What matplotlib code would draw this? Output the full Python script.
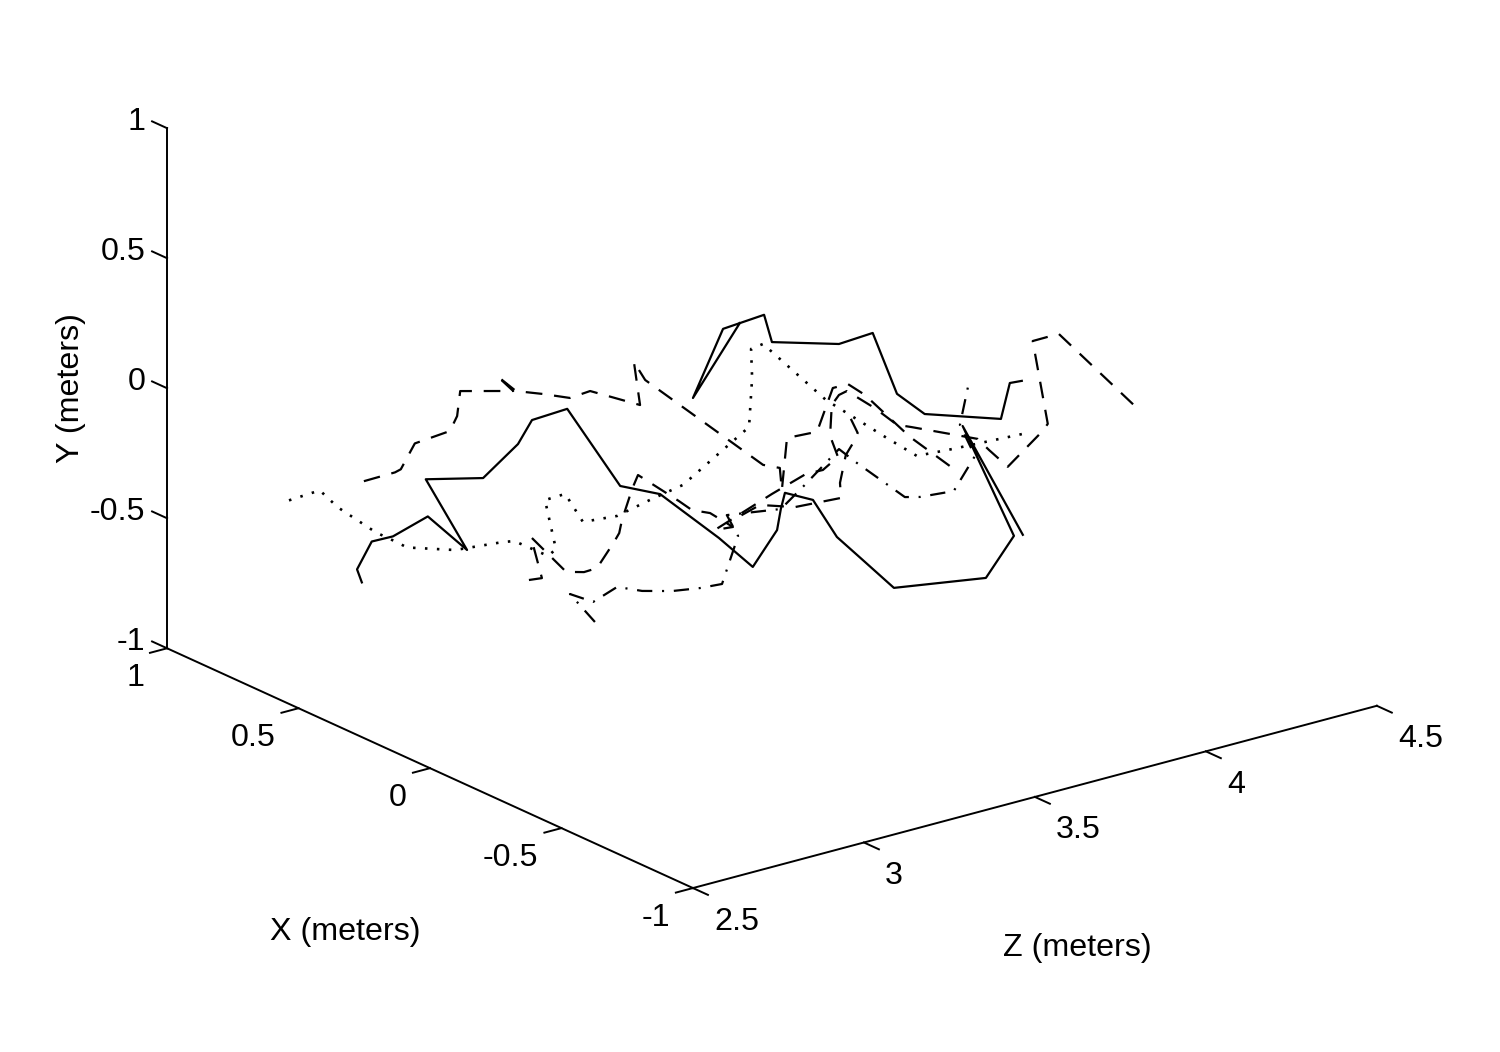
import matplotlib
matplotlib.use('Agg')
import matplotlib.pyplot as plt

plt.rcParams['font.family'] = ['Liberation Sans', 'DejaVu Sans']
plt.rcParams['lines.scale_dashes'] = False

# walk 1, solid
z_solid1 = [2.762, 2.748, 2.791, 2.853, 2.955, 2.839, 2.949, 2.886, 2.988, 3.029, 3.132, 3.287, 3.173,
            3.345, 3.444, 3.515, 3.526, 3.538, 3.620, 3.690, 3.535, 3.626, 3.895, 3.977, 3.827, 4.003]
x_solid1 = [.6, .6, .6, .6, .6, .3, .6, .3, .3, .3, .3, .3, 0,
            0, 0, 0, 0, 0, 0, 0, -.3, -.3, -.3, -.3, -.3, -.3]
y_solid1 = [-.654, -.599, -.507, -.509, -.468, -.418, -.323, -.158, -.063, .015, .022, -.329, -.182,
            -.411, -.557, -.440, -.363, -.305, -.361, -.528, -.424, -.563, -.619, -.486, -.011, -.491]

# walk 2, solid
z_solid2 = [3.406, 3.269, 3.357, 3.477, 3.500, 3.696, 3.564, 3.635, 3.716, 3.939, 3.965, 4.000]
x_solid2 = [0, 0, 0, 0, 0, 0, -.3, -.3, -.3, -.3, -.3, -.3]
y_solid2 = [.394, .154, .389, .401, .288, .212, .439, .180, .074, -.023, .106, .102]

# walk 3, dashed
z_dash1 = [2.768, 2.859, 2.876, 2.917, 2.789, 2.810, 2.819, 2.974, 2.927, 2.982, 3.061, 3.140, 3.199,
           3.345, 3.327, 3.360, 3.474, 3.523, 3.529, 3.544, 3.632, 3.678, 3.722, 3.541, 3.673, 3.789]
x_dash1 = [.6, .6, .6, .6, .3, .3, .3, .3, .3, .3, .3, .3, .3,
           .3, .3, .3, 0, 0, 0, 0, 0, 0, 0, -.3, -.3, -.3]
y_dash1 = [-.267, -.265, -.259, -.174, .057, .107, .200, .146, .220, .143, .104, .061, .067,
           -.038, .134, .053, -.175, -.204, -.291, -.096, -.103, .049, .049, .209, .001, -.151]

# walk 4, dashed
z_dash2 = [3.020, 3.058, 3.026, 3.129, 3.181, 3.219, 3.269, 3.284, 3.292, 3.322, 3.339, 3.228, 3.266,
           3.319, 3.386, 3.333, 3.500, 3.599, 3.649, 3.693, 3.670, 3.675, 3.696, 3.719, 3.532, 3.570,
           3.635, 3.678, 3.772, 3.871, 3.904, 3.959, 4.058, 4.076, 4.032, 4.108, 4.336]
x_dash2 = [.3, .3, .3, .3, .3, .3, .3, .3, .3, .3, .3, 0, 0,
           0, 0, 0, 0, 0, 0, 0, 0, 0, 0, 0, -.3, -.3,
           -.3, -.3, -.3, -.3, -.3, -.3, -.3, -.3, -.3, -.3, -.3]
y_dash2 = [-.597, -.603, -.434, -.604, -.623, -.621, -.538, -.509, -.462, -.352, -.305, -.228, -.276,
           -.306, -.383, -.376, -.296, -.254, -.256, -.221, -.132, -.015, .016, .023, .192, .148,
           .061, .037, -.018, -.076, -.130, -.214, -.115, -.090, .244, .245, -.119]

# short dashed piece in the middle
z_dash3 = [3.500, 3.520, 3.512, 3.716, 3.699, 3.702, 3.567, 3.465, 3.386]
x_dash3 = [-.3, -.3, -.3, 0, 0, 0, 0, 0, 0]
y_dash3 = [.131, .070, .046, -.222, -.323, -.382, -.370, -.326, -.356]

# walk 5, dash-dot
z_dashdot = [3.213, 3.140, 3.208, 3.278, 3.351, 3.208, 3.289, 3.354, 3.401, 3.368,
             3.526, 3.599, 3.696, 3.518, 3.658, 3.702, 3.801, 3.863, 3.819, 3.845]
x_dashdot = [.3, .3, .3, .3, .3, 0, 0, 0, 0, 0,
             0, 0, 0, -.3, -.3, -.3, -.3, -.3, -.3, -.3]
y_dashdot = [-.826, -.693, -.747, -.714, -.755, -.567, -.584, -.591, -.423, -.331,
             -.363, -.292, -.192, -.045, -.225, -.240, -.252, -.139, -.004, .148]

# walk 6, dotted
z_dot = [2.549, 2.639, 2.692, 2.803, 2.865, 2.894, 2.804, 2.942, 2.977, 3.076, 3.099, 3.067, 3.126,
         3.178, 3.278, 3.143, 3.240, 3.433, 3.442, 3.439, 3.474, 3.658, 3.605, 3.693, 3.798, 4.018]
x_dot = [.6, .6, .6, .6, .6, .6, .3, .3, .3, .3, .3, .3, .3,
         .3, .3, 0, 0, 0, 0, 0, 0, 0, -.3, -.3, -.3, -.3]
y_dot = [-.264, -.257, -.341, -.476, -.536, -.566, -.406, -.424, -.432, -.524, -.506, -.306, -.303,
         -.429, -.441, -.194, -.170, -.015, .170, .283, .290, .010, .021, -.079, -.089, -.104]

x_ticks = [1, 0.5, 0, -0.5, -1]
y_ticks = [1, 0.5, 0, -0.5, -1]
z_ticks = [2.5, 3, 3.5, 4, 4.5]
x_tick_labels = ['1', '0.5', '0', '-0.5', '-1']
y_tick_labels = ['1', '0.5', '0', '-0.5', '-1']
z_tick_labels = ['2.5', '3', '3.5', '4', '4.5']

fig = plt.figure(figsize=(15, 10.52), dpi=100)
ax = fig.add_axes([0.0689, -0.0319, 0.868, 1.2376], projection='3d', proj_type='ortho')
ax.set_box_aspect((861, 866, 555), zoom=1)
ax.view_init(elev=20.4, azim=-127.4)
ax.set_xlim(2.5, 4.5, view_margin=0)
ax.set_ylim(-1, 1, view_margin=0)
ax.set_zlim(-1, 1, view_margin=0)
# the real axes can't sit on these edges, so they are drawn by hand below
ax.set_xticks([])
ax.set_yticks([])
ax.set_zticks([])
ax.set_axis_off()

k = 'black'
lw_axis = 1.4
lw_line = 1.6
fs = 23.2

ax.plot([2.5, 2.5], [1, 1], [-1, 1], color=k, lw=lw_axis)
ax.plot([2.5, 2.5], [-1, 1], [-1, -1], color=k, lw=lw_axis)
ax.plot([2.5, 4.5], [-1, -1], [-1, -1], color=k, lw=lw_axis)

for t, lab in zip(x_ticks, x_tick_labels):
    ax.plot([2.5, 2.45], [t, t], [-1, -1], color=k, lw=lw_axis)
    ax.text(2.433, t, -1.09, lab, ha='right', va='center', fontsize=fs)
for t, lab in zip(y_ticks, y_tick_labels):
    ax.plot([2.5, 2.5], [1, 1.057], [t, t], color=k, lw=lw_axis)
    ax.text(2.5, 1.082, t - 0.015, lab, ha='right', va='center', fontsize=fs)
for t, lab in zip(z_ticks, z_tick_labels):
    ax.plot([t, t], [-1, -1.057], [-1, -1], color=k, lw=lw_axis)
    ax.text(t, -1.08, -1.092, lab, ha='left', va='center', fontsize=fs)

ax.plot(z_solid1, x_solid1, y_solid1, color=k, lw=lw_line)
ax.plot(z_solid2, x_solid2, y_solid2, color=k, lw=lw_line)
ax.plot(z_dash1, x_dash1, y_dash1, color=k, lw=lw_line, ls=(0, (12, 8.5)))
ax.plot(z_dash2, x_dash2, y_dash2, color=k, lw=lw_line, ls=(0, (12, 8.5)))
ax.plot(z_dash3, x_dash3, y_dash3, color=k, lw=lw_line, ls=(0, (12, 8.5)))
ax.plot(z_dashdot, x_dashdot, y_dashdot, color=k, lw=lw_line, ls=(0, (11, 7, 1.5, 7)))
ax.plot(z_dot, x_dot, y_dot, color=k, lw=1.9, ls=(0, (1.8, 6.8)))

fig.text(345 / 1500, 1 - 932 / 1052, 'X (meters)', ha='center', va='center', fontsize=fs)
fig.text(1077 / 1500, 1 - 948 / 1052, 'Z (meters)', ha='center', va='center', fontsize=fs)
fig.text(71 / 1500, 1 - 388 / 1052, 'Y (meters)', ha='center', va='center', fontsize=fs, rotation=90)

plt.savefig('out.png', dpi=100)
